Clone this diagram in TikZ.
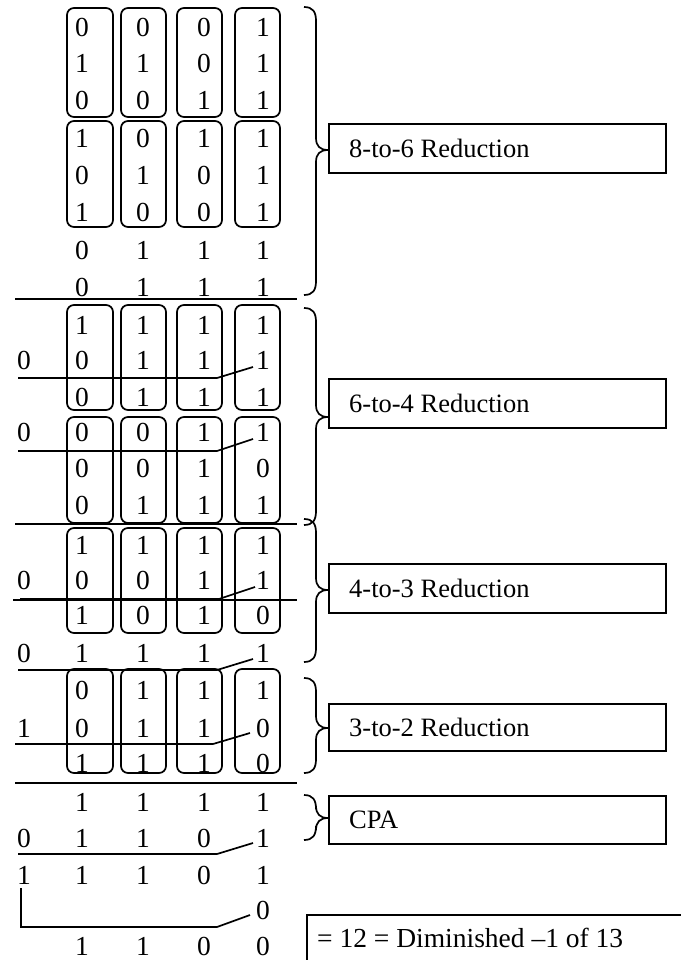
\documentclass[tikz,border=0pt]{standalone}
\usepackage{fontspec}
\setmainfont{Liberation Serif}
\tikzset{
  dig/.style={inner sep=0pt, font=\fontsize{27.5}{32}\selectfont},
  labtxt/.style={inner sep=0pt, font=\fontsize{26.5}{31}\selectfont},
  colbox/.style={draw, line width=1.7pt, rounded corners=7pt},
  rulel/.style={line width=1.7pt},
  carry/.style={line width=1.7pt},
  labbox/.style={draw, line width=1.7pt, inner sep=0pt, minimum width=337pt, minimum height=49pt, anchor=north west},
  brc/.style={line width=1.7pt},
}
\newcommand\digrow[3]{% #1 row id, #2 y, #3 five entries
  \foreach \v [count=\c] in {#3}{%
    \pgfmathsetmacro\xx{{24,82,143,204,263}[\c-1]}%
    \if\v x\else
      \node[dig] (d#1c\c) at (\xx,#2) {\v};
    \fi
  }%
}
\newcommand\colboxes[3]{% #1 id, #2 top, #3 bottom
  \foreach \xa/\xb [count=\c] in {67/113,121/166,177/222,235/280}{%
    \draw[colbox] (\xa,#2) rectangle (\xb,#3);
  }%
}
\newcommand\mybrace[3]{% #1 top, #2 tip, #3 bottom
  \draw[brc] (304,#1) .. controls (313,#1) and (316,#1+5) .. (316,#1+14)
     -- (316,#2-12) .. controls (316,#2-4) and (320,#2) .. (328,#2)
     .. controls (320,#2) and (316,#2+4) .. (316,#2+12)
     -- (316,#3-14) .. controls (316,#3-5) and (313,#3) .. (304,#3);
}
\begin{document}
\begin{tikzpicture}[x=1pt,y=-1pt]
\useasboundingbox (0,0) rectangle (680,960);

% ---- Section 1: 8-to-6
\colboxes{a}{8}{117}
\colboxes{b}{121}{227}
\digrow{1}{27}{x,0,0,0,1}
\digrow{2}{63}{x,1,1,0,1}
\digrow{3}{100}{x,0,0,1,1}
\digrow{4}{138}{x,1,0,1,1}
\digrow{5}{175}{x,0,1,0,1}
\digrow{6}{212}{x,1,0,0,1}
\digrow{7}{250}{x,0,1,1,1}
\digrow{8}{287}{x,0,1,1,1}
\draw[rulel] (15,299) -- (297,299);

% ---- Section 2: 6-to-4
\colboxes{c}{305}{410}
\colboxes{d}{417}{523}
\digrow{9}{325}{x,1,1,1,1}
\digrow{10}{360}{0,0,1,1,1}
\digrow{11}{397}{x,0,1,1,1}
\digrow{12}{432}{0,0,0,1,1}
\digrow{13}{468}{x,0,0,1,0}
\digrow{14}{505}{x,0,1,1,1}
\draw[carry] (18,378) -- (217,378) -- (253,367);
\draw[carry] (18,451) -- (217,451) -- (253,439);
\draw[rulel] (15,524) -- (297,524);

% ---- Section 3: 4-to-3
\colboxes{e}{528}{633}
\digrow{15}{545}{x,1,1,1,1}
\digrow{16}{580}{0,0,0,1,1}
\digrow{17}{615}{x,1,0,1,0}
\digrow{18}{653}{0,1,1,1,1}
\draw[rulel] (13,600) -- (297,600);
\draw[carry, line width=2.6pt] (20,599) -- (219,599);
\draw[carry] (219,599) -- (255,587);
\draw[carry] (18,670) -- (217,670) -- (253,659);

% ---- Section 4: 3-to-2
\colboxes{f}{669}{773}
\digrow{19}{690}{x,0,1,1,1}
\digrow{20}{728}{1,0,1,1,0}
\digrow{21}{763}{x,1,1,1,0}
\draw[carry] (15,744) -- (213,744) -- (250,733);
\draw[rulel] (15,783) -- (297,783);

% ---- CPA
\digrow{22}{802}{x,1,1,1,1}
\digrow{23}{838}{0,1,1,0,1}
\draw[carry] (18,854) -- (217,854) -- (253,843);
\digrow{24}{875}{1,1,1,0,1}
\digrow{25}{910}{x,x,x,x,0}
\draw[carry] (21,888) -- (21,927) -- (217,927) -- (250,915);
\digrow{26}{946}{x,1,1,0,0}

% ---- Braces
\mybrace{7}{150}{295}
\mybrace{308}{417}{525}
\mybrace{519}{590}{662}
\mybrace{678}{728}{773}
\mybrace{795}{818}{840}

% ---- Label boxes
\node[labbox] (b1) at (328,123) {};
\node[labtxt, anchor=west] (t1) at ([xshift=21pt]b1.west) {8-to-6 Reduction};
\node[labbox] (b2) at (328,378) {};
\node[labtxt, anchor=west] (t2) at ([xshift=21pt]b2.west) {6-to-4 Reduction};
\node[labbox] (b3) at (328,563) {};
\node[labtxt, anchor=west] (t3) at ([xshift=21pt]b3.west) {4-to-3 Reduction};
\node[labbox, minimum height=47pt] (b4) at (328,703) {};
\node[labtxt, anchor=west] (t4) at ([xshift=21pt]b4.west) {3-to-2 Reduction};
\node[labbox, minimum height=48pt] (b5) at (328,795) {};
\node[labtxt, anchor=west] (t5) at ([xshift=21pt]b5.west) {CPA};

% ---- Final result box (open to the right and below)
\draw[rulel] (307,975) -- (307,915) -- (690,915);
\node[labtxt, font=\fontsize{27.5}{32}\selectfont, anchor=west] (res) at (317,938) {= 12 = Diminished \textendash1 of 13};
\end{tikzpicture}
\end{document}
